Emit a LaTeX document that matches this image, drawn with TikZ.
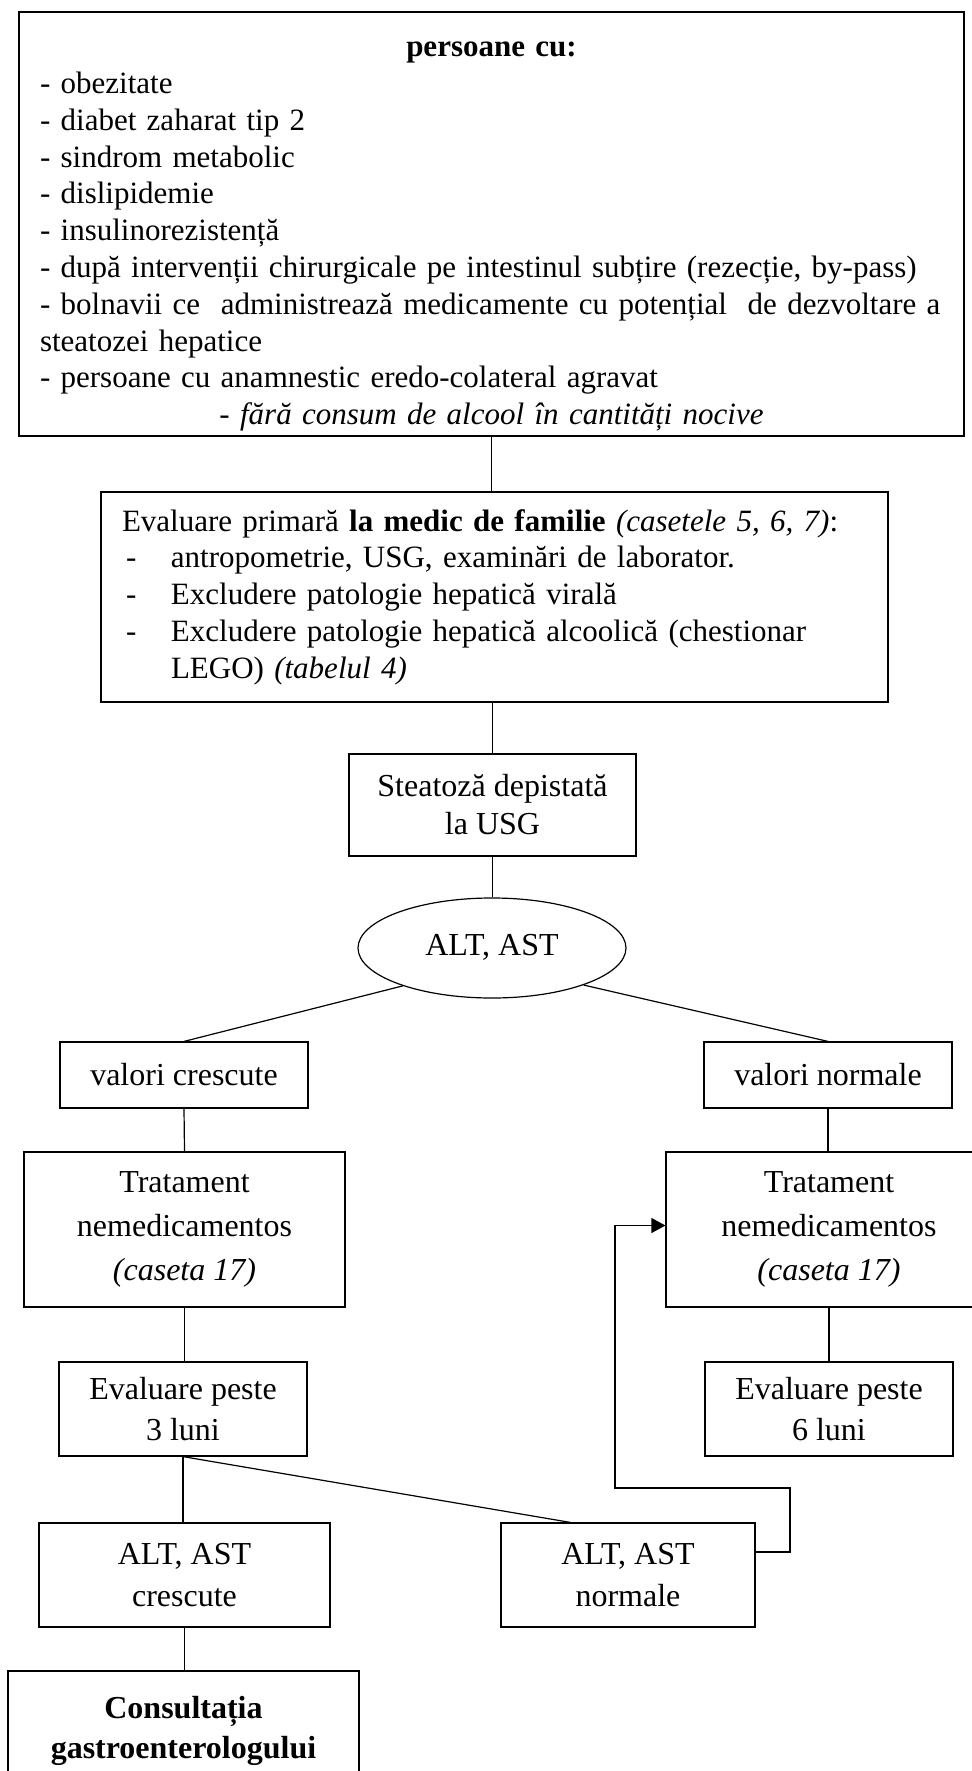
\documentclass[tikz,border=0pt]{standalone}
\usepackage{fontspec}
\setmainfont{Liberation Serif}
\usetikzlibrary{shapes.geometric,arrows.meta,calc}

\tikzset{
  casebox/.style={draw, line width=0.6pt, inner sep=0pt, align=center,
    font=\fontsize{16pt}{20.5pt}\selectfont},
  listbox/.style={draw, line width=0.6pt, inner xsep=10.5pt, inner ysep=0pt,
    align=left, font=\fontsize{15.5pt}{18.4pt}\selectfont},
  link/.style={line width=0.6pt}
}

\begin{document}
\begin{tikzpicture}[x=0.5pt,y=-0.5pt]
  \useasboundingbox (0,0) rectangle (972,1771);
  %\draw[help lines] (0,0) grid[step=100] (972,1771);

  %LIST BOXES
  \node[listbox, text width=451.5pt, minimum height=212pt] (top) at (491.5,224) {%
    \rule{0pt}{20pt}\makebox[\linewidth]{\textbf{persoane cu:}}\\
    - obezitate\\
    - diabet zaharat tip 2\\
    - sindrom metabolic\\
    - dislipidemie\\
    - insulinorezistență\\
    - după intervenții chirurgicale pe intestinul subțire (rezecție, by-pass)\\
    \makebox[\linewidth][s]{- bolnavii ce\ \ administrează medicamente cu potențial\ \ de dezvoltare a}\\
    steatozei hepatice\\
    - persoane cu anamnestic eredo-colateral agravat\\
    \makebox[\linewidth]{\textit{- fără consum de alcool în cantități nocive}}};

  \node[listbox, text width=372.5pt, minimum height=105pt] (eval1) at (494.5,597) {%
    Evaluare primară \textbf{la medic de familie} \textit{(casetele 5, 6, 7)}:\\
    \makebox[24.5pt][l]{\hspace{2pt}-}antropometrie, USG, examinări de laborator.\\
    \makebox[24.5pt][l]{\hspace{2pt}-}Excludere patologie hepatică virală\\
    \makebox[24.5pt][l]{\hspace{2pt}-}Excludere patologie hepatică alcoolică (chestionar\\
    \hspace*{24.5pt}LEGO) \textit{(tabelul 4)}};

  %SMALL BOXES
  \node[casebox, minimum width=143.5pt, minimum height=51pt,
    font=\fontsize{16pt}{19pt}\selectfont] (steat) at (492.5,805) {Steatoză depistată\\la USG};
  \node[draw, ellipse, line width=0.6pt, inner sep=0pt, minimum width=134pt, minimum height=50pt,
    font=\fontsize{16pt}{19pt}\selectfont] (alt) at (492,948) {\raisebox{3pt}{ALT, AST}};

  \node[casebox, minimum width=124pt, minimum height=33pt] (vc) at (184,1075) {valori crescute};
  \node[casebox, minimum width=124pt, minimum height=33pt] (vn) at (828,1075) {valori normale};

  \node[casebox, minimum width=160.5pt, minimum height=77.5pt,
    font=\fontsize{16pt}{22pt}\selectfont] (tr1) at (184.5,1229.5) {Tratament\\nemedicamentos\\\textit{(caseta 17)}};
  \node[casebox, minimum width=163pt, minimum height=77.5pt,
    font=\fontsize{16pt}{22pt}\selectfont] (tr2) at (829,1229.5) {Tratament\\nemedicamentos\\\textit{(caseta 17)}};

  \node[casebox, minimum width=124pt, minimum height=47pt] (ev3) at (183,1409) {Evaluare peste\\3 luni};
  \node[casebox, minimum width=124pt, minimum height=47pt] (ev6) at (829,1409) {Evaluare peste\\6 luni};

  \node[casebox, minimum width=145.5pt, minimum height=52pt,
    font=\fontsize{16pt}{21pt}\selectfont] (altc) at (184.5,1575) {ALT, AST\\crescute};
  \node[casebox, minimum width=127pt, minimum height=52pt,
    font=\fontsize{16pt}{21pt}\selectfont] (altn) at (628,1575) {ALT, AST\\normale};

  \node[casebox, minimum width=175.5pt, minimum height=60pt,
    font=\fontsize{16pt}{20pt}\selectfont\bfseries] (cons) at (183.5,1731) {Consultația\\gastroenterologului};

  %CONNECTORS
  \draw[link] (top.south) -- (top.south |- eval1.north);
  \draw[link] (steat.north |- eval1.south) -- (steat.north);
  \draw[link] (steat.south) -- (steat.south |- alt.north);
  \draw[link] (alt.203) -- (vc.north);
  \draw[link] (alt.338) -- (vn.north);
  \draw[link] (vc.south) -- (tr1.north);
  \draw[link] (vn.south) -- (vn.south |- tr2.north);
  \draw[link] (tr1.south) -- (tr1.south |- ev3.north);
  \draw[link] (tr2.south) -- (ev6.north);
  \draw[link] (ev3.south) -- (ev3.south |- altc.north);
  \draw[link] (ev3.south) -- ([xshift=35pt]altn.north west);
  \draw[link] (altc.south) -- (altc.south |- cons.north);

  %BACK TO TREATMENT
  \coordinate (loopa) at (790,1488);
  \coordinate (loopb) at (615,1488);
  \draw[link, -{Triangle[length=7pt,width=7.5pt]}]
    ([yshift=11.5pt]altn.east) -| (loopa) -- (loopb) |- ([yshift=2pt]tr2.west);
\end{tikzpicture}
\end{document}
